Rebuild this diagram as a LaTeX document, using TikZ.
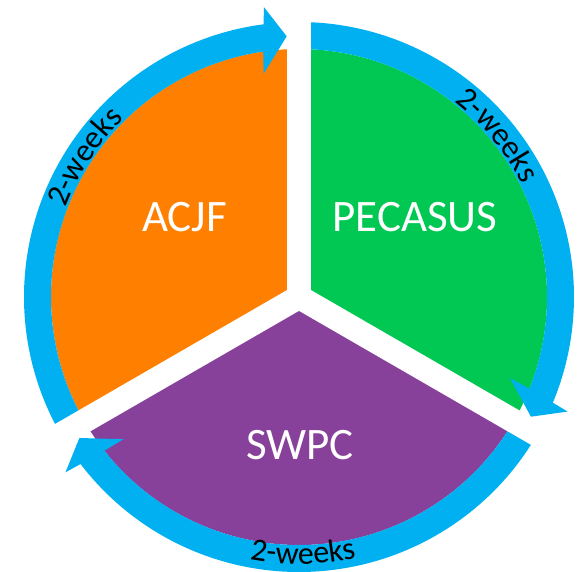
\documentclass[tikz,border=0pt]{standalone}
\usepackage{fontspec}
\setmainfont{Carlito}
\usetikzlibrary{decorations.text}

\definecolor{acjforange}{HTML}{FF8000}
\definecolor{pecasusgreen}{HTML}{00C853}
\definecolor{swpcpurple}{HTML}{87419A}
\definecolor{ringblue}{HTML}{00B0F0}

\newcommand{\weekfont}{\fontsize{32}{38}\selectfont}

% one blue ring arrow: #1 start angle, #2 tip angle (runs clockwise)
\newcommand{\ringarrow}[2]{%
  \fill[ring] (#1:275) arc[start angle=#1, end angle={#2+4.7}, radius=275pt]
    -- ({#2+4.2}:292) -- (#2:261) -- ({#2+6.3}:226) -- ({#2+5.6}:248)
    arc[start angle={#2+5.6}, end angle=#1, radius=248pt] -- cycle;
}

\tikzset{%
  % Specifications for style of nodes:
         team/.style = {text=white, font=\fontsize{45}{54}\selectfont},
         ring/.style = {fill=ringblue},
          gap/.style = {draw=white, line width=24pt},
        weeks/.style = {decorate, decoration={text along path, text align=center, text={|\weekfont|2-weeks}}},
}

\begin{document}
\begin{tikzpicture}[x=1pt, y=1pt]
    \useasboundingbox (-299,-274) rectangle (288,297);

    % Draw sectors
    \fill[acjforange]   (0,0) -- (90:248) arc[start angle=90, end angle=210, radius=248pt] -- cycle;
    \fill[pecasusgreen] (0,0) -- (-30:248) arc[start angle=-30, end angle=90, radius=248pt] -- cycle;
    \fill[swpcpurple]   (0,0) -- (210:248) arc[start angle=210, end angle=330, radius=248pt] -- cycle;

    % Draw arrows
    \ringarrow{210}{92.7}
    \ringarrow{90}{-27.3}
    \ringarrow{-30}{-147.3}

    % Cut the gaps
    \draw[gap] (0,0) -- (90:300);
    \draw[gap] (0,0) -- (210:300);
    \draw[gap] (0,0) -- (330:300);

    % Draw nodes
    \node (acjf)    [team] at (-114.5,80) {ACJF};
    \node (pecasus) [team] at (116,80)    {PECASUS};
    \node (swpc)    [team] at (1,-148.5)  {SWPC};

    % Labels on the ring
    \path[weeks] (176.8:250) arc[start angle=176.8, end angle=116.8, radius=250pt];
    \path[weeks] (69.2:250) arc[start angle=69.2, end angle=9.2, radius=250pt];
    \path[weeks] (-119.1:267) arc[start angle=-119.1, end angle=-59.1, radius=267pt];

\end{tikzpicture}
\end{document}
